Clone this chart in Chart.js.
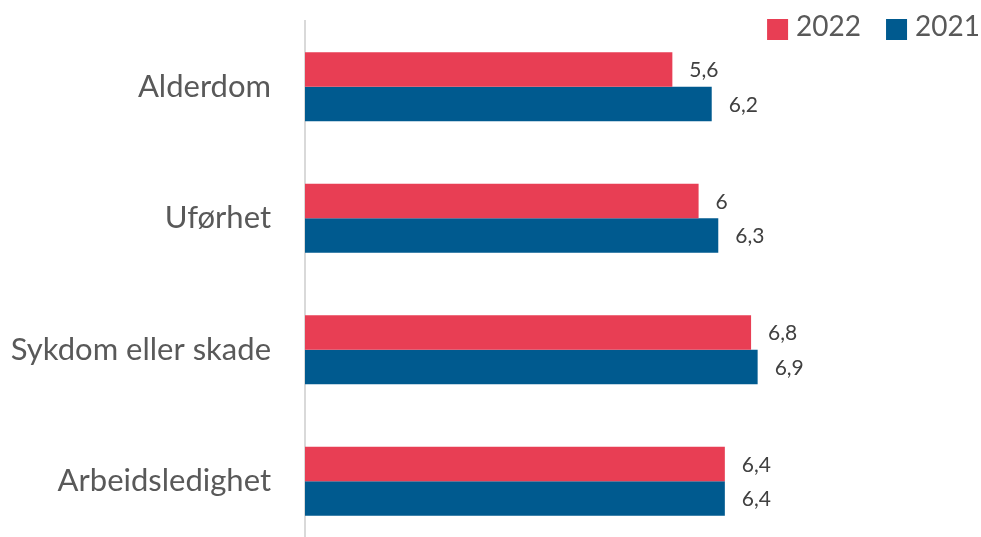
<!DOCTYPE html>
<html>
<head>
<meta charset="utf-8">
<script src="https://cdn.jsdelivr.net/npm/chart.js@4/dist/chart.umd.min.js"></script>
<style>
html,body{margin:0;padding:0;background:#fff;overflow:hidden;}
#wrap{position:relative;width:981px;height:548px;}
</style>
</head>
<body>
<div id="wrap"><canvas id="c"></canvas></div>
<script>
const categories = ["Alderdom", "Uførhet", "Sykdom eller skade", "Arbeidsledighet"];
const values2022 = [5.6, 6, 6.8, 6.4];
const values2021 = [6.2, 6.3, 6.9, 6.4];
const seriesNames = ["2022", "2021"];

const FONT = "Lato, 'Source Sans Pro', 'Noto Sans', sans-serif";
const fmt = v => String(v).replace('.', ',');

const valueLabels = {
  id: 'valueLabels',
  afterDatasetsDraw(chart) {
    const ctx = chart.ctx;
    ctx.save();
    ctx.font = "21px " + FONT;
    ctx.fillStyle = "#404040";
    ctx.textAlign = "left";
    ctx.textBaseline = "middle";
    chart.data.datasets.forEach((ds, i) => {
      chart.getDatasetMeta(i).data.forEach((bar, j) => {
        ctx.fillText(fmt(ds.data[j]), bar.x + 17, bar.y + 1);
      });
    });
    ctx.restore();
  }
};

const topLegend = {
  id: 'topLegend',
  afterDraw(chart) {
    const ctx = chart.ctx;
    ctx.save();
    ctx.font = "28px " + FONT;
    ctx.textBaseline = "middle";
    ctx.textAlign = "left";
    const items = chart.data.datasets.map(d => ({text: d.label, color: d.backgroundColor}));
    const widths = items.map(it => ctx.measureText(it.text).width);
    const box = 21, gap = 8, spacing = 25;
    let total = 0;
    widths.forEach((w, i) => { total += box + gap + w + (i ? spacing : 0); });
    let x = chart.width - 1 - total;
    items.forEach((it, i) => {
      ctx.fillStyle = it.color;
      ctx.fillRect(x, 19, box, box);
      x += box + gap;
      ctx.fillStyle = "#595959";
      ctx.fillText(it.text, x, 27);
      x += widths[i] + spacing;
    });
    ctx.restore();
  }
};

new Chart(document.getElementById('c'), {
  type: 'bar',
  data: {
    labels: categories,
    datasets: [
      { label: seriesNames[0], data: values2022, backgroundColor: "#E83E54", borderWidth: 0 },
      { label: seriesNames[1], data: values2021, backgroundColor: "#005A8F", borderWidth: 0 }
    ]
  },
  options: {
    indexAxis: 'y',
    responsive: true,
    maintainAspectRatio: false,
    animation: false,
    layout: { padding: { top: 21, bottom: 1, left: 0, right: 20 } },
    datasets: { bar: { barPercentage: 1, categoryPercentage: 0.525 } },
    plugins: { legend: { display: false }, tooltip: { enabled: false } },
    scales: {
      x: { display: false, min: 0, max: 10 },
      y: {
        afterFit(s) { s.width = 305; s.paddingTop = 0; s.paddingBottom = 0; },
        grid: { display: false, drawTicks: false },
        border: { display: true, color: "#d9d9d9", width: 2 },
        ticks: { color: "#595959", font: { family: FONT, size: 31 }, padding: 34 }
      }
    }
  },
  plugins: [valueLabels, topLegend]
});
</script>
</body>
</html>
